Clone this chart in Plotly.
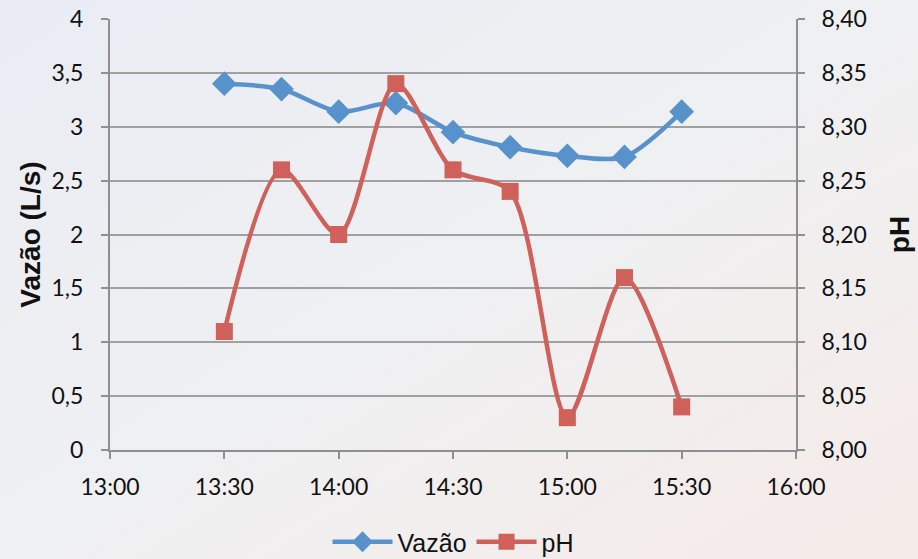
import plotly.graph_objects as go

times = ["13:30", "13:45", "14:00", "14:15", "14:30", "14:45", "15:00", "15:15", "15:30"]
vazao = [3.40, 3.35, 3.14, 3.22, 2.95, 2.81, 2.73, 2.72, 3.14]
ph = [8.11, 8.26, 8.20, 8.34, 8.26, 8.24, 8.03, 8.16, 8.04]
x_range = ["13:00", "16:00"]

def dt(t):
    return "2000-01-01 " + t + ":00"

xs = [dt(t) for t in times]

BLUE = "#5892cd"
RED = "#cf605a"

fig = go.Figure()
fig.add_trace(go.Scatter(
    x=xs, y=vazao, name="Vazão", mode="lines+markers",
    line=dict(color=BLUE, width=4.5, shape="spline", smoothing=0.8),
    marker=dict(symbol="diamond", size=19, color=BLUE),
))
fig.add_trace(go.Scatter(
    x=xs, y=ph, name="pH", mode="lines+markers", yaxis="y2",
    line=dict(color=RED, width=4.5, shape="spline", smoothing=0.8),
    marker=dict(symbol="square", size=17, color=RED),
))

svg = ("data:image/svg+xml;utf8,<svg xmlns='http://www.w3.org/2000/svg' width='918' height='559'>"
       "<defs><linearGradient id='g' x1='0' y1='0' x2='1' y2='1'>"
       "<stop offset='0' stop-color='%23e9ecf3'/><stop offset='0.5' stop-color='%23eff0f2'/>"
       "<stop offset='1' stop-color='%23f5ebe8'/></linearGradient></defs>"
       "<rect width='918' height='559' fill='url(%23g)'/></svg>")

L, R, T, B = 110, 122, 19, 109
W, H = 918, 559
pw, ph_ = W - L - R, H - T - B

axis_line = "#8f8f8f"
TICKFONT = dict(family="Lato, Liberation Sans, sans-serif", size=23, color="#111111")
TITLEFONT = dict(family="Liberation Sans, Arial", size=28, color="#111111")
fig.update_layout(
    width=W, height=H,
    margin=dict(l=L, r=R, t=T, b=B, autoexpand=False),
    paper_bgcolor="#eff0f2",
    plot_bgcolor="rgba(0,0,0,0)",
    separators=",.",
    font=dict(family="Lato, Liberation Sans, sans-serif", size=20, color="#111111"),
    images=[dict(source=svg, xref="paper", yref="paper",
                 x=-L / pw, y=1 + T / ph_, sizex=W / pw, sizey=H / ph_,
                 xanchor="left", yanchor="top", sizing="stretch", layer="below")],
    xaxis=dict(
        type="date", range=[dt(x_range[0]), dt(x_range[1])],
        tickformat="%H:%M", dtick=1800000, tick0=dt(x_range[0]),
        showgrid=False, showline=True, linecolor=axis_line, linewidth=2,
        ticks="outside", ticklen=7, tickwidth=2, tickcolor=axis_line,
        tickfont=TICKFONT, zeroline=False, ticklabelstandoff=8,
    ),
    yaxis=dict(
        range=[0, 4], dtick=0.5, tick0=0,
        showgrid=True, gridcolor="#a0a0a0", gridwidth=2,
        showline=True, linecolor=axis_line, linewidth=2,
        ticks="outside", ticklen=7, tickwidth=2, tickcolor=axis_line,
        tickfont=TICKFONT, zeroline=False, ticklabelstandoff=13,
        title=dict(text="<b>Vazão (L/s)</b>", font=TITLEFONT, standoff=3),
    ),
    yaxis2=dict(
        range=[8.0, 8.4], dtick=0.05, tick0=8.0, tickformat=".2f",
        overlaying="y", side="right", showgrid=False,
        showline=True, linecolor=axis_line, linewidth=2,
        ticks="outside", ticklen=7, tickwidth=2, tickcolor=axis_line,
        tickfont=TICKFONT, zeroline=False, ticklabelstandoff=12,
        title=dict(text="<b>pH</b>", font=TITLEFONT, standoff=24),
    ),
    legend=dict(
        orientation="h", x=0.5, xanchor="center",
        yref="container", y=1 - 542 / 559, yanchor="middle",
        font=dict(family="Liberation Sans, Arial", size=25, color="#111111"),
        bgcolor="rgba(0,0,0,0)", itemwidth=60, tracegroupgap=0,
    ),
    showlegend=True,
)

fig.write_html("out.html", config={"displayModeBar": False},
               post_script="document.body.style.margin='0';document.body.style.padding='0';document.body.style.overflow='hidden';")
